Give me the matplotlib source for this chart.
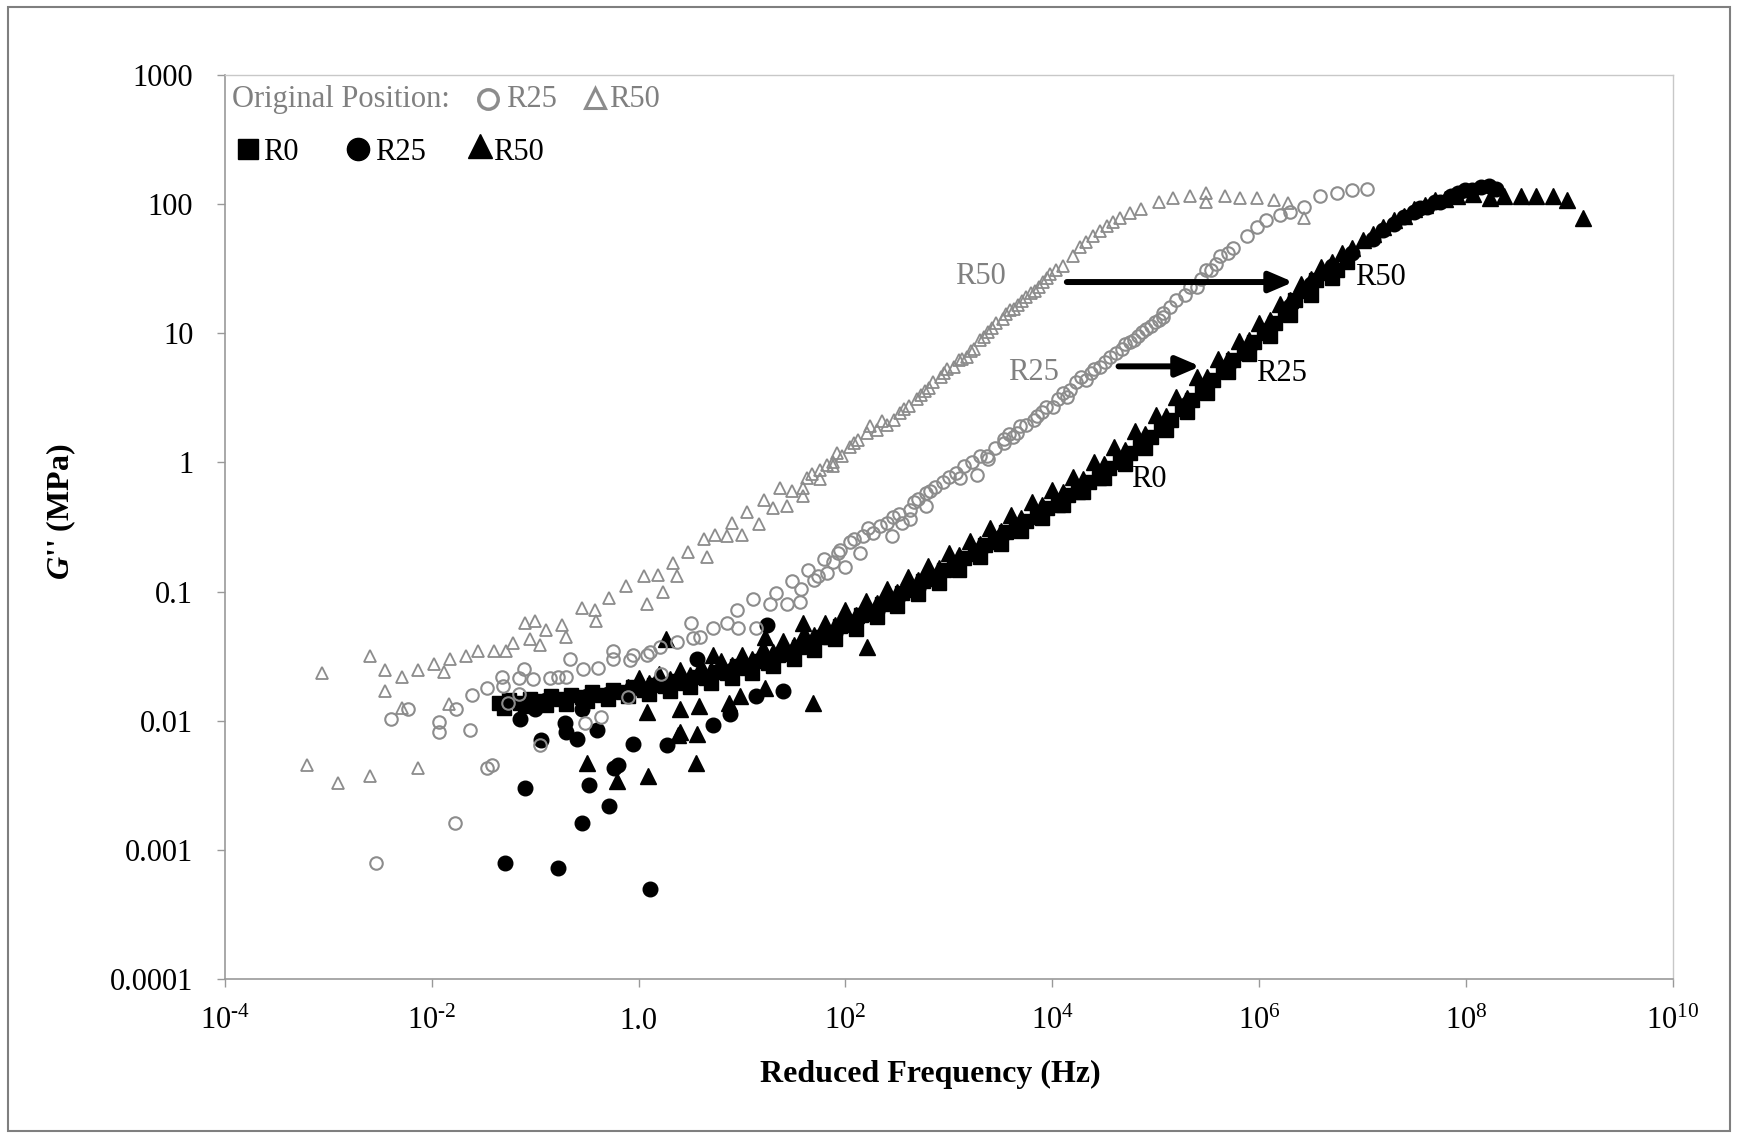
import numpy as np
import matplotlib
matplotlib.use("Agg")
import matplotlib.pyplot as plt
from matplotlib.patches import Rectangle
from matplotlib.ticker import NullLocator

plt.rcParams['font.family'] = 'Liberation Serif'
plt.rcParams['mathtext.fontset'] = 'custom'
plt.rcParams['mathtext.rm'] = 'Liberation Serif'
plt.rcParams['mathtext.it'] = 'Liberation Serif:italic:bold'
plt.rcParams['mathtext.bf'] = 'Liberation Serif:bold'

# ------------ Data (log10 reduced frequency [Hz], log10 G'' [MPa]) ---------------
# original position, R50 (gray open triangles)
r50_orig = [(-3.21, -2.34), (-3.06, -1.63), (-2.91, -2.48), (-2.60, -1.50), (-2.60, -2.43),
            (-2.45, -1.61), (-2.45, -1.77), (-2.29, -1.90), (-2.29, -1.66), (-2.13, -2.37),
            (-2.13, -1.61), (-1.98, -1.56), (-1.88, -1.62), (-1.83, -1.87), (-1.82, -1.52),
            (-1.67, -1.50), (-1.55, -1.46), (-1.40, -1.46), (-1.28, -1.46), (-1.21, -1.40),
            (-1.10, -1.24), (-1.05, -1.37), (-1.00, -1.23), (-0.95, -1.41), (-0.90, -1.30),
            (-0.74, -1.26), (-0.70, -1.35), (-0.55, -1.13), (-0.42, -1.14), (-0.41, -1.23),
            (-0.29, -1.05), (-0.12, -0.96), (0.05, -0.88), (0.08, -1.10), (0.19, -0.87),
            (0.24, -1.00), (0.33, -0.78), (0.37, -0.88), (0.48, -0.69), (0.63, -0.59),
            (0.66, -0.73), (0.74, -0.56), (0.85, -0.57), (0.90, -0.47), (1.00, -0.56),
            (1.05, -0.38), (1.16, -0.48), (1.21, -0.29), (1.30, -0.35), (1.37, -0.20),
            (1.43, -0.34), (1.48, -0.22), (1.59, -0.20), (1.59, -0.26), (1.63, -0.12),
            (1.68, -0.09), (1.75, -0.13), (1.75, -0.06), (1.82, -0.02), (1.88, 0.00),
            (1.88, -0.03), (1.92, 0.07), (1.97, 0.05), (2.04, 0.12), (2.08, 0.15),
            (2.12, 0.17), (2.21, 0.23), (2.24, 0.28), (2.30, 0.25), (2.35, 0.32),
            (2.40, 0.29), (2.47, 0.33), (2.53, 0.38), (2.57, 0.41), (2.61, 0.44),
            (2.69, 0.49), (2.73, 0.52), (2.77, 0.55), (2.81, 0.58), (2.85, 0.62),
            (2.92, 0.66), (2.95, 0.69), (2.98, 0.72), (3.05, 0.74), (3.10, 0.79),
            (3.13, 0.80), (3.17, 0.82), (3.21, 0.86), (3.24, 0.88), (3.30, 0.95),
            (3.34, 0.97), (3.38, 1.01), (3.42, 1.04), (3.46, 1.08), (3.52, 1.11),
            (3.55, 1.15), (3.59, 1.18), (3.63, 1.19), (3.67, 1.22), (3.71, 1.25),
            (3.75, 1.28), (3.79, 1.31), (3.83, 1.33), (3.87, 1.36), (3.91, 1.40),
            (3.95, 1.43), (3.98, 1.46), (4.04, 1.49), (4.10, 1.52), (4.20, 1.60),
            (4.27, 1.67), (4.33, 1.71), (4.39, 1.75), (4.46, 1.79), (4.53, 1.83),
            (4.59, 1.86), (4.65, 1.89), (4.75, 1.93), (4.86, 1.96), (5.03, 2.02),
            (5.17, 2.05), (5.33, 2.06), (5.49, 2.09), (5.49, 2.02), (5.67, 2.06),
            (5.81, 2.05), (5.98, 2.05), (6.14, 2.03), (6.28, 2.01), (6.43, 1.89)]

# original position, R25 (gray open circles)
r25_orig = [(-2.54, -3.10), (-2.39, -1.99), (-2.23, -1.91), (-1.93, -2.01), (-1.93, -2.09),
            (-1.78, -2.79), (-1.77, -1.91), (-1.63, -2.07), (-1.61, -1.80), (-1.47, -1.75),
            (-1.47, -2.37), (-1.42, -2.34), (-1.32, -1.66), (-1.31, -1.73), (-1.26, -1.86),
            (-1.16, -1.79), (-1.16, -1.67), (-1.11, -1.60), (-1.02, -1.68), (-0.95, -2.19),
            (-0.86, -1.67), (-0.78, -1.66), (-0.70, -1.66), (-0.66, -1.52), (-0.54, -1.60),
            (-0.52, -2.02), (-0.39, -1.59), (-0.36, -1.97), (-0.25, -1.46), (-0.25, -1.52),
            (-0.10, -1.82), (-0.08, -1.53), (-0.05, -1.49), (0.08, -1.49), (0.11, -1.47),
            (0.21, -1.43), (0.22, -1.64), (0.37, -1.39), (0.51, -1.24), (0.53, -1.36),
            (0.59, -1.35), (0.72, -1.28), (0.85, -1.24), (0.95, -1.14), (0.96, -1.28),
            (1.11, -1.06), (1.13, -1.28), (1.27, -1.10), (1.33, -1.01), (1.43, -1.10),
            (1.48, -0.92), (1.56, -1.08), (1.57, -0.98), (1.64, -0.83), (1.70, -0.91),
            (1.73, -0.88), (1.79, -0.75), (1.82, -0.86), (1.88, -0.77), (1.93, -0.70),
            (1.95, -0.68), (2.00, -0.81), (2.04, -0.62), (2.08, -0.59), (2.14, -0.70),
            (2.17, -0.57), (2.22, -0.51), (2.27, -0.55), (2.33, -0.49), (2.40, -0.47),
            (2.45, -0.57), (2.46, -0.42), (2.52, -0.40), (2.55, -0.47), (2.62, -0.44),
            (2.62, -0.37), (2.66, -0.31), (2.70, -0.28), (2.78, -0.34), (2.78, -0.24),
            (2.82, -0.22), (2.87, -0.19), (2.94, -0.15), (3.00, -0.11), (3.07, -0.08),
            (3.11, -0.12), (3.15, -0.03), (3.22, 0.00), (3.27, -0.10), (3.30, 0.05),
            (3.37, 0.05), (3.38, 0.03), (3.45, 0.11), (3.53, 0.15), (3.53, 0.18),
            (3.58, 0.22), (3.62, 0.20), (3.66, 0.23), (3.69, 0.28), (3.75, 0.29),
            (3.82, 0.33), (3.85, 0.36), (3.90, 0.39), (3.94, 0.43), (4.01, 0.43),
            (4.05, 0.49), (4.10, 0.54), (4.14, 0.51), (4.17, 0.56), (4.23, 0.62),
            (4.28, 0.66), (4.33, 0.64), (4.37, 0.69), (4.40, 0.72), (4.46, 0.74),
            (4.51, 0.78), (4.56, 0.82), (4.62, 0.85), (4.67, 0.88), (4.70, 0.92),
            (4.75, 0.93), (4.79, 0.95), (4.83, 0.98), (4.87, 1.01), (4.91, 1.03),
            (4.95, 1.06), (4.99, 1.09), (5.03, 1.10), (5.07, 1.13), (5.07, 1.16),
            (5.14, 1.20), (5.20, 1.26), (5.28, 1.30), (5.33, 1.36), (5.40, 1.36),
            (5.44, 1.42), (5.49, 1.49), (5.53, 1.49), (5.58, 1.54), (5.62, 1.60),
            (5.70, 1.62), (5.75, 1.66), (5.88, 1.75), (5.98, 1.82), (6.07, 1.88),
            (6.20, 1.92), (6.30, 1.94), (6.43, 1.98), (6.59, 2.06), (6.75, 2.09),
            (6.90, 2.11), (7.04, 2.12)]

# shifted master curves (black filled)
r0 = [(-1.35, -1.86), (-1.25, -1.84), (-1.15, -1.86), (-1.05, -1.83), (-0.95, -1.85),
      (-0.85, -1.81), (-0.75, -1.83), (-0.65, -1.80), (-0.55, -1.82), (-0.45, -1.78),
      (-0.35, -1.80), (-0.25, -1.76), (-0.15, -1.78), (-0.05, -1.74), (0.05, -1.76),
      (0.15, -1.72), (0.25, -1.73), (0.35, -1.69), (0.45, -1.71), (0.55, -1.66),
      (0.65, -1.67), (0.75, -1.62), (0.85, -1.63), (0.95, -1.58), (1.05, -1.59),
      (1.15, -1.54), (1.25, -1.55), (1.35, -1.49), (1.45, -1.48), (1.55, -1.43),
      (1.65, -1.42), (1.75, -1.35), (1.85, -1.35), (1.95, -1.27), (2.05, -1.26),
      (2.15, -1.18), (2.25, -1.17), (2.35, -1.10), (2.45, -1.08), (2.55, -1.01),
      (2.65, -0.99), (2.75, -0.92), (2.85, -0.90), (2.95, -0.83), (3.05, -0.81),
      (3.15, -0.74), (3.25, -0.71), (3.35, -0.64), (3.45, -0.62), (3.55, -0.54),
      (3.65, -0.52), (3.75, -0.45), (3.85, -0.42), (3.95, -0.35), (4.05, -0.33),
      (4.15, -0.25), (4.25, -0.23), (4.35, -0.15), (4.45, -0.12), (4.55, -0.04),
      (4.65, 0.00), (4.75, 0.07), (4.85, 0.12), (4.95, 0.20), (5.05, 0.26),
      (5.15, 0.33), (5.25, 0.41), (5.35, 0.48), (5.45, 0.55), (5.55, 0.64),
      (5.65, 0.71), (5.75, 0.79), (5.85, 0.85), (5.95, 0.93), (6.05, 1.00),
      (6.15, 1.08), (6.25, 1.17), (6.35, 1.26), (6.45, 1.33), (6.55, 1.41),
      (6.65, 1.47), (6.75, 1.49), (6.85, 1.55),
      # second temperature sweep, slightly lower
      (-1.30, -1.90), (-1.10, -1.89), (-0.90, -1.88), (-0.70, -1.87), (-0.50, -1.85),
      (-0.30, -1.83), (-0.10, -1.81), (0.10, -1.79), (0.30, -1.77), (0.50, -1.74),
      (0.70, -1.71), (0.90, -1.67), (1.10, -1.63), (1.30, -1.58), (1.50, -1.52),
      (1.70, -1.45), (1.90, -1.37), (2.10, -1.29), (2.30, -1.20), (2.50, -1.11),
      (2.70, -1.02), (2.90, -0.93), (3.10, -0.83), (3.30, -0.73), (3.50, -0.63),
      (3.70, -0.53), (3.90, -0.43), (4.10, -0.33), (4.30, -0.23), (4.50, -0.12),
      (4.70, -0.01), (4.90, 0.11), (5.10, 0.25), (5.30, 0.39), (5.50, 0.54),
      (5.70, 0.70), (5.90, 0.84), (6.10, 0.98), (6.30, 1.14), (6.50, 1.30),
      (6.70, 1.43)]

r25 = [(-1.30, -1.88), (-1.10, -1.87), (-0.90, -1.84), (-0.70, -1.84), (-0.50, -1.81),
       (-0.30, -1.79), (-0.10, -1.78), (0.10, -1.75), (0.30, -1.72), (0.50, -1.69),
       (0.70, -1.66), (0.90, -1.61), (1.10, -1.57), (1.30, -1.53), (1.50, -1.46),
       (1.70, -1.39), (1.90, -1.32), (2.10, -1.23), (2.30, -1.15), (2.50, -1.06),
       (2.70, -0.97), (2.90, -0.87), (3.10, -0.78), (3.30, -0.68), (3.50, -0.58),
       (3.70, -0.48), (3.90, -0.38), (4.10, -0.28), (4.30, -0.19), (4.50, -0.07),
       (4.70, 0.04), (4.90, 0.16), (5.10, 0.30), (5.30, 0.45), (5.50, 0.60),
       (5.70, 0.75), (5.90, 0.89), (6.10, 1.04), (6.30, 1.21), (6.50, 1.38),
       (6.70, 1.52), (6.90, 1.62), (7.10, 1.73), (7.20, 1.80), (7.30, 1.85),
       (7.40, 1.90), (7.50, 1.94), (7.55, 1.97), (7.62, 1.98), (7.70, 2.02),
       (7.75, 2.02), (7.85, 2.06), (7.92, 2.09), (7.99, 2.11), (8.06, 2.11),
       (8.14, 2.13), (8.22, 2.14), (8.29, 2.12),
       # low-frequency scatter
       (-1.29, -3.10), (-1.15, -1.99), (-1.10, -2.52), (-1.00, -1.91), (-0.94, -2.15),
       (-0.78, -3.14), (-0.71, -2.02), (-0.70, -2.09), (-0.60, -2.14), (-0.55, -2.79),
       (-0.55, -1.91), (-0.48, -2.50), (-0.40, -2.07), (-0.29, -2.66), (-0.24, -2.37),
       (-0.20, -2.34), (-0.05, -2.18), (0.11, -3.30), (0.27, -2.19), (0.56, -1.52),
       (0.72, -2.03), (0.88, -1.95), (1.13, -1.81), (1.24, -1.26), (1.40, -1.77)]

r50 = [(-0.10, -1.74), (0.10, -1.71), (0.30, -1.68), (0.50, -1.65), (0.70, -1.61),
       (0.90, -1.57), (1.10, -1.52), (1.30, -1.47), (1.50, -1.41), (1.70, -1.34),
       (1.90, -1.26), (2.10, -1.18), (2.30, -1.09), (2.50, -1.00), (2.70, -0.91),
       (2.90, -0.82), (3.10, -0.72), (3.30, -0.63), (3.50, -0.53), (3.70, -0.43),
       (3.90, -0.33), (4.10, -0.23), (4.30, -0.13), (4.50, -0.01), (4.70, 0.10),
       (4.90, 0.22), (5.10, 0.36), (5.30, 0.50), (5.50, 0.66), (5.70, 0.80),
       (5.90, 0.95), (6.10, 1.10), (6.30, 1.26), (6.50, 1.42), (6.70, 1.55),
       (6.90, 1.66), (7.10, 1.77), (7.30, 1.88), (7.50, 1.96), (7.70, 2.03),
       (7.91, 2.06), (8.07, 2.08), (8.23, 2.05), (8.37, 2.06), (8.53, 2.06),
       (8.68, 2.06), (8.84, 2.06), (8.98, 2.03), (9.13, 1.89),
       # second sweep, slightly higher
       (0.00, -1.67), (0.20, -1.64), (0.40, -1.61), (0.60, -1.58), (0.80, -1.54),
       (1.00, -1.49), (1.20, -1.44), (1.40, -1.38), (1.60, -1.32), (1.80, -1.24),
       (2.00, -1.16), (2.20, -1.07), (2.40, -0.98), (2.60, -0.89), (2.80, -0.80),
       (3.00, -0.70), (3.20, -0.61), (3.40, -0.51), (3.60, -0.41), (3.80, -0.31),
       (4.00, -0.21), (4.20, -0.11), (4.40, 0.00), (4.60, 0.12), (4.80, 0.24),
       (5.00, 0.37), (5.20, 0.51), (5.40, 0.66), (5.60, 0.80), (5.80, 0.94),
       (6.00, 1.08), (6.20, 1.23), (6.40, 1.38), (6.60, 1.51), (6.80, 1.62),
       (7.00, 1.72), (7.20, 1.82), (7.40, 1.91), (7.60, 1.99), (7.80, 2.04),
       # low-frequency scatter
       (-0.50, -2.33), (-0.21, -2.47), (0.08, -1.93), (0.09, -2.43), (0.26, -1.37),
       (0.38, -2.11), (0.40, -1.91), (0.40, -2.09), (0.55, -2.33), (0.56, -2.10),
       (0.58, -1.89), (0.72, -1.49), (0.87, -1.86), (0.98, -1.81), (1.22, -1.75),
       (1.22, -1.35), (1.59, -1.24), (1.69, -1.86), (2.00, -1.14), (2.21, -1.43)]

xtick_vals = [1e-4, 1e-2, 1.0, 1e2, 1e4, 1e6, 1e8, 1e10]
xtick_labels = [r'$\mathregular{10^{\text{-}4}}$', r'$\mathregular{10^{\text{-}2}}$', '1.0',
                r'$\mathregular{10^{2}}$', r'$\mathregular{10^{4}}$', r'$\mathregular{10^{6}}$',
                r'$\mathregular{10^{8}}$', r'$\mathregular{10^{10}}$']
ytick_vals = [1e-4, 1e-3, 1e-2, 1e-1, 1, 10, 100, 1000]
ytick_labels = ['0.0001', '0.001', '0.01', '0.1', '1', '10', '100', '1000']

GRAY = '#8c8c8c'
TGRAY = '#808080'


def xy(pairs):
    a = np.array(pairs)
    return 10.0 ** a[:, 0], 10.0 ** a[:, 1]


# ------------ Plot Setup ---------------
fig = plt.figure(figsize=(17.37, 11.37), dpi=100)
ax = fig.add_axes([0.1295, 0.1390, 0.8336, 0.7950])

x, y = xy(r0)
ax.plot(x, y, ls='none', marker='s', ms=10.5, color='black')
x, y = xy(r25)
ax.plot(x, y, ls='none', marker='o', ms=10.5, color='black')
x, y = xy(r50)
ax.plot(x, y, ls='none', marker='^', ms=11.5, color='black')
x, y = xy(r25_orig)
ax.plot(x, y, ls='none', marker='o', ms=9, mfc='none', mec=GRAY, mew=1.5)
x, y = xy(r50_orig)
ax.plot(x, y, ls='none', marker='^', ms=9, mfc='none', mec=GRAY, mew=1.3)

ax.set_xscale('log')
ax.set_yscale('log')
ax.set_xlim(1e-4, 1e10)
ax.set_ylim(1e-4, 1e3)
ax.set_xticks(xtick_vals)
ax.set_xticklabels(xtick_labels)
ax.set_yticks(ytick_vals)
ax.set_yticklabels(ytick_labels)
ax.xaxis.set_minor_locator(NullLocator())
ax.yaxis.set_minor_locator(NullLocator())
ax.tick_params(axis='both', direction='out', length=5.8, width=1, color='#999999', labelsize=22)
ax.tick_params(axis='y', pad=17)
ax.tick_params(axis='x', pad=30)
plt.setp(ax.get_xticklabels(), va='baseline')

for s in ['left', 'bottom']:
    ax.spines[s].set_color('#999999')
    ax.spines[s].set_linewidth(1.2)
for s in ['top', 'right']:
    ax.spines[s].set_color('#c8c8c8')
    ax.spines[s].set_linewidth(1.0)

ax.set_xlabel('Reduced Frequency (Hz)', fontsize=23, fontweight='bold')
ax.xaxis.set_label_coords(0.487, -0.106)
ax.xaxis.label.set_va('center')
ax.set_ylabel(r"$G$'' (MPa)", fontsize=23, fontweight='bold')
ax.yaxis.set_label_coords(-0.113, 0.517)
ax.yaxis.label.set_va('center')

# legend drawn by hand, as in the original
tr = ax.transAxes
ax.text(0.0046, 0.965, 'Original Position:', transform=tr, fontsize=22, color=TGRAY, va='baseline')
ax.plot([0.182], [0.974], transform=tr, marker='o', ms=14, mfc='none', mec=GRAY, mew=2.5, clip_on=False)
ax.text(0.194, 0.965, 'R25', transform=tr, fontsize=22, color=TGRAY, va='baseline')
ax.plot([0.2555], [0.975], transform=tr, marker='^', ms=15, mfc='none', mec=GRAY, mew=2.2, clip_on=False)
ax.text(0.265, 0.965, 'R50', transform=tr, fontsize=22, color=TGRAY, va='baseline')

ax.plot([0.0160], [0.918], transform=tr, marker='s', ms=14, color='black')
ax.text(0.0262, 0.906, 'R0', transform=tr, fontsize=22, va='baseline')
ax.plot([0.0920], [0.918], transform=tr, marker='o', ms=16, color='black')
ax.text(0.1036, 0.906, 'R25', transform=tr, fontsize=22, va='baseline')
ax.plot([0.1760], [0.921], transform=tr, marker='^', ms=17, color='black')
ax.text(0.1853, 0.906, 'R50', transform=tr, fontsize=22, va='baseline')

# shift annotations
ax.text(10 ** 3.30, 10 ** 1.44, 'R50', fontsize=22, color=TGRAY, ha='center', va='center')
ax.text(10 ** 3.82, 10 ** 0.70, 'R25', fontsize=22, color=TGRAY, ha='center', va='center')
ax.text(10 ** 7.175, 10 ** 1.43, 'R50', fontsize=22, ha='center', va='center')
ax.text(10 ** 6.22, 10 ** 0.69, 'R25', fontsize=22, ha='center', va='center')
ax.text(10 ** 4.93, 10 ** -0.13, 'R0', fontsize=22, ha='center', va='center')

arrow = dict(arrowstyle='-|>,head_length=0.7,head_width=0.3', lw=4.3, color='black',
             shrinkA=0, shrinkB=0, mutation_scale=20)
ax.annotate('', xy=(10 ** 6.33, 10 ** 1.397), xytext=(10 ** 4.14, 10 ** 1.397), arrowprops=arrow)
ax.annotate('', xy=(10 ** 5.43, 10 ** 0.744), xytext=(10 ** 4.64, 10 ** 0.744), arrowprops=arrow)

# chart-area border
fig.patches.append(Rectangle((0.0046, 0.0053), 0.9914, 0.9886, transform=fig.transFigure,
                             fill=False, edgecolor='#7f7f7f', lw=1.5))

fig.savefig('out.png', dpi=100)
